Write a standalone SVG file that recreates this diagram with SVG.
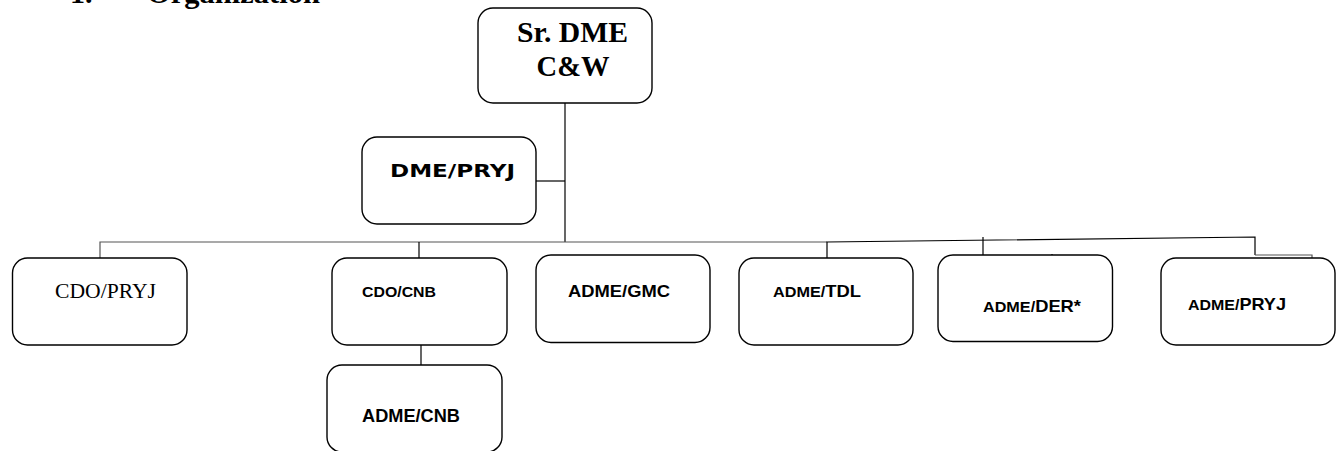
<svg xmlns="http://www.w3.org/2000/svg" width="1336" height="451" viewBox="0 0 1336 451">
<style>
.box{fill:#fff;stroke:#000;stroke-width:1.4}
.ln{fill:none;stroke:#000;stroke-width:1.2}
.lg{fill:none;stroke:#555;stroke-width:1.2}
.tb{font-family:"Liberation Serif",serif;font-weight:bold;fill:#000}
.tr{font-family:"Liberation Serif",serif;fill:#000}
.ta{font-family:"Liberation Sans",Arial,sans-serif;font-weight:bold;fill:#000}
.tv{font-family:"DejaVu Sans",Verdana,sans-serif;font-weight:bold;fill:#000}
</style>
<text class="tb" x="70" y="3" font-size="30">1.</text>
<text class="tb" x="147" y="3" font-size="30" textLength="173" lengthAdjust="spacingAndGlyphs">Organization</text>
<g id="connectors">
<path class="ln" d="M565,103 V242"/>
<path class="ln" d="M536,181 H565"/>
<path class="lg" d="M100,258 V242 H827"/>
<path class="ln" d="M419,242 V258"/>
<path class="ln" d="M827,258 V242 L1255,237 V255"/>
<path class="lg" d="M1255,255 H1312 V258"/>
<path class="ln" d="M983,237 V255"/>
<path class="ln" d="M1052,254 V258"/>
<path class="ln" d="M421,345 V365"/>
</g>
<g id="sr-dme">
<rect class="box" x="478" y="8" width="174" height="95" rx="15"/>
<text class="tb" x="572.5" y="42" font-size="28.5" text-anchor="middle" textLength="111" lengthAdjust="spacingAndGlyphs">Sr. DME</text>
<text class="tb" x="573" y="76" font-size="28.5" text-anchor="middle">C&amp;W</text>
</g>
<g id="dme-pryj">
<rect class="box" x="362" y="137" width="174" height="87" rx="15"/>
<text class="tv" x="390" y="177" font-size="18" textLength="125" lengthAdjust="spacingAndGlyphs">DME/PRYJ</text>
</g>
<g id="cdo-pryj">
<rect class="box" x="12.5" y="258" width="174.5" height="87" rx="15"/>
<text class="tr" x="55" y="298" font-size="21.5" textLength="101" lengthAdjust="spacingAndGlyphs">CDO/PRYJ</text>
</g>
<g id="cdo-cnb">
<rect class="box" x="332" y="258" width="175" height="87" rx="15"/>
<text class="ta" x="362" y="296.5" font-size="14.5" textLength="74" lengthAdjust="spacingAndGlyphs">CDO/CNB</text>
</g>
<g id="adme-cnb">
<rect class="box" x="327" y="365" width="175" height="87" rx="15"/>
<text class="ta" x="362" y="421.5" font-size="17.5" textLength="98" lengthAdjust="spacingAndGlyphs">ADME/CNB</text>
</g>
<g id="adme-gmc">
<rect class="box" x="536" y="255" width="174" height="87.5" rx="15"/>
<text class="ta" x="568" y="296.5" font-size="17" textLength="102" lengthAdjust="spacingAndGlyphs">ADME/GMC</text>
</g>
<g id="adme-tdl">
<rect class="box" x="739" y="258" width="174" height="87" rx="15"/>
<text class="ta" x="773" y="296.5" font-size="17" textLength="88" lengthAdjust="spacingAndGlyphs"><tspan font-size="15">ADME/</tspan>TDL</text>
</g>
<g id="adme-der">
<rect class="box" x="938" y="255" width="174.5" height="86.5" rx="15"/>
<text class="ta" x="983" y="311.5" font-size="17" textLength="98" lengthAdjust="spacingAndGlyphs"><tspan font-size="15">ADME/</tspan>DER*</text>
</g>
<g id="adme-pryj">
<rect class="box" x="1161" y="258" width="174" height="87" rx="15"/>
<text class="ta" x="1188" y="310" font-size="17" textLength="98" lengthAdjust="spacingAndGlyphs"><tspan font-size="15">ADME/</tspan>PRYJ</text>
</g>
</svg>
